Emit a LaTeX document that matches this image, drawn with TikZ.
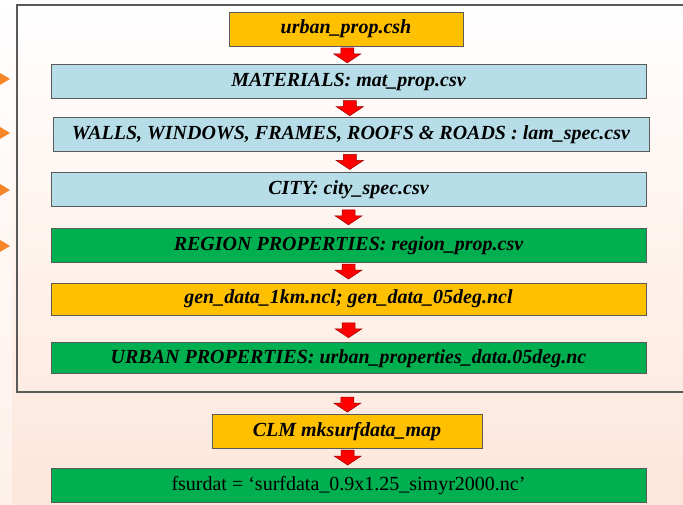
\documentclass[tikz,border=0pt]{standalone}
\usepackage{fontspec}
\setmainfont{Liberation Serif}
\usetikzlibrary{positioning}

\definecolor{boxorange}{RGB}{255,192,0}
\definecolor{boxblue}{RGB}{183,222,232}
\definecolor{boxgreen}{RGB}{0,176,80}
\definecolor{peach}{RGB}{253,230,218}
\definecolor{bullet}{RGB}{247,134,40}
\definecolor{frame}{RGB}{90,90,90}

\begin{document}
\begin{tikzpicture}[
    x=1pt, y=1pt,
    font=\fontsize{20}{24}\selectfont\bfseries\itshape,
    stage/.style={
        draw=frame, line width=0.8pt,
        minimum width=595pt,
        minimum height=34pt,
        inner sep=0pt,
        align=center
    },
    script/.style={stage, fill=boxorange},
    table/.style={stage, fill=boxblue},
    result/.style={stage, fill=boxgreen},
    dnarrow/.pic={
        \draw[fill=red, draw=red!60!black, line width=0.5pt]
            (-6.5,7.5) -- (6.5,7.5) -- (6.5,1.5) -- (13.5,1.5) -- (0,-7.5)
            -- (-13.5,1.5) -- (-6.5,1.5) -- cycle;
    }
]

% Background
\useasboundingbox (0,0) rectangle (683,-505);
\shade[top color=white, bottom color=peach] (0,0) rectangle (683,-505);
\fill[white, opacity=0.45] (0,0) rectangle (12,-505);

% Frame round the urban part
\draw[frame, line width=1.2pt] (700,-5) -- (17,-5) -- (17,-392) -- (700,-392);

% Bullets on the left
\foreach \y in {79,133,190,246}
    \fill[bullet] (0,-\y+6) -- (10,-\y) -- (0,-\y-6) -- cycle;

% Main chain
\node[script, minimum width=234pt] (urbprop) at (346,-29) {urban\_prop.csh};
\node[table, below=18pt of urbprop, xshift=2.5pt] (matprop)
    {MATERIALS: mat\_prop.csv};
\node[table, below=18pt of matprop, xshift=2.5pt, minimum width=596pt] (lamspec)
    {WALLS, WINDOWS, FRAMES, ROOFS \& ROADS : lam\_spec.csv};
\node[table, below=20pt of lamspec, xshift=-2.5pt] (cityspec)
    {CITY: city\_spec.csv};
\node[result, below=21pt of cityspec] (regprop)
    {REGION PROPERTIES: region\_prop.csv};
\node[script, below=20pt of regprop, minimum height=32pt] (gendata)
    {gen\_data\_1km.ncl; gen\_data\_05deg.ncl};
\node[result, below=27pt of gendata, minimum height=31pt] (urbdata)
    {URBAN PROPERTIES: urban\_properties\_data.05deg.nc};
\node[script, below=40pt of urbdata, xshift=-1.5pt, minimum width=270pt] (mksurf)
    {CLM mksurfdata\_map};
\node[result, below=19pt of mksurf, xshift=1.5pt, font=\fontsize{20}{24}\selectfont] (fsurdat)
    {fsurdat = ‘surfdata\_0.9x1.25\_simyr2000.nc’};

% Arrows
\path (urbprop.south)  -- (matprop.north)  pic[pos=0.5]{dnarrow};
\path (matprop.south)  -- (lamspec.north)  pic[pos=0.5]{dnarrow};
\path (lamspec.south)  -- (cityspec.north) pic[pos=0.5]{dnarrow};
\path (cityspec.south) -- (regprop.north)  pic[pos=0.5]{dnarrow};
\path (regprop.south)  -- (gendata.north)  pic[pos=0.45]{dnarrow};
\path (gendata.south)  -- (urbdata.north)  pic[pos=0.55]{dnarrow};
\path (urbdata.south)  -- (mksurf.north)   pic[pos=0.76]{dnarrow};
\path (mksurf.south)   -- (fsurdat.north)  pic[pos=0.45]{dnarrow};

\end{tikzpicture}
\end{document}
